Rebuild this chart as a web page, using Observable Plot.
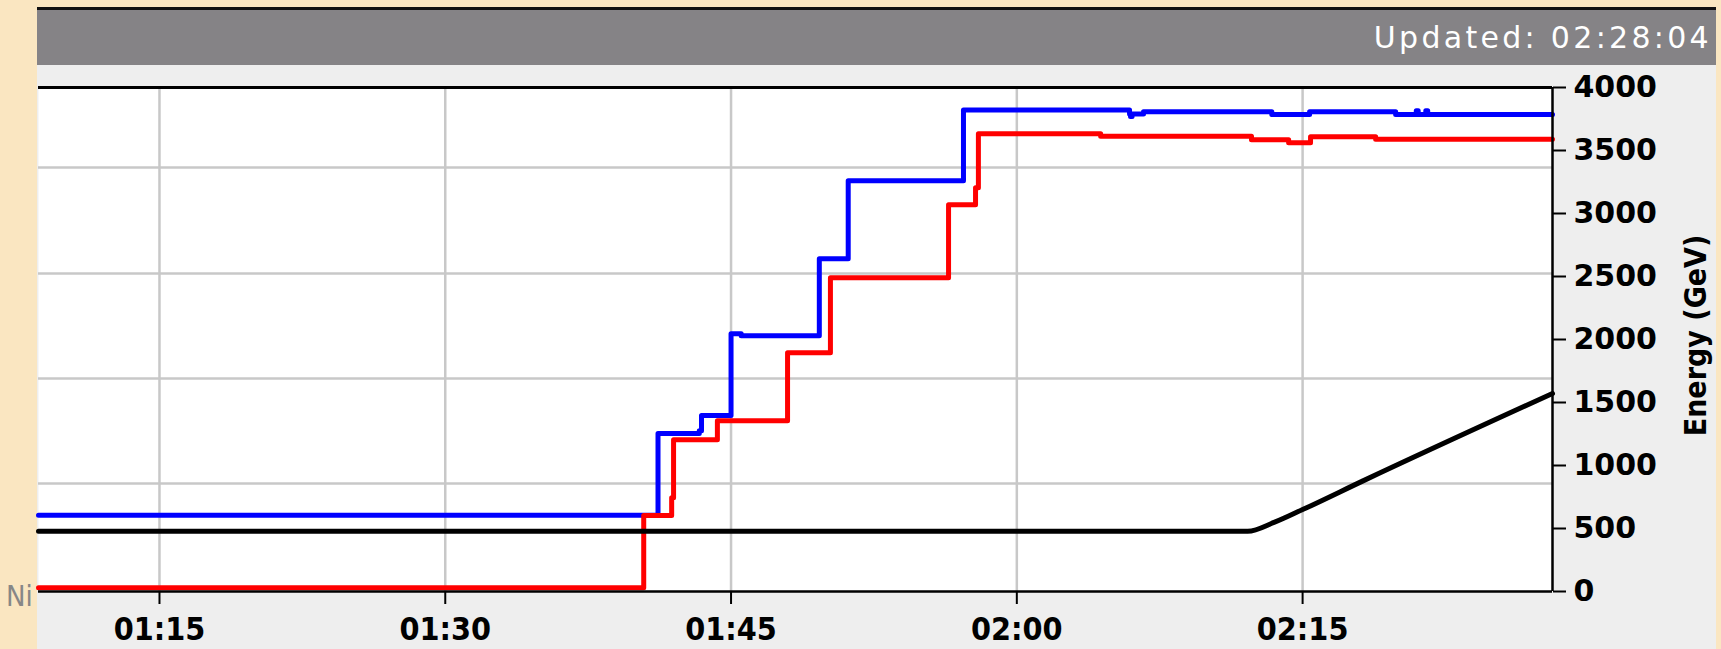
<!DOCTYPE html>
<html><head><meta charset="utf-8">
<script src="https://cdn.jsdelivr.net/npm/d3@7"></script>
<script src="https://cdn.jsdelivr.net/npm/@observablehq/plot@0.6"></script>
<style>
html,body{margin:0;padding:0;}
body{width:1721px;height:649px;position:relative;overflow:hidden;background:#fae6c1;}
#bg{position:absolute;left:0;top:0;}
#chart{position:absolute;left:0;top:0;}
#chart svg{display:block;max-width:none;}
g[aria-label="x-axis tick label"]{font-family:"DejaVu Sans Condensed";font-weight:bold;font-size:32px;}
g[aria-label="y-axis tick label"]{font-family:"DejaVu Sans";font-weight:bold;font-size:30px;}
</style></head><body>
<svg id="bg" width="1721" height="649"></svg>
<div id="chart"></div>
<script>
// ---- data ----
const updatedLabel = "Updated: 02:28:04";
const sideText = "Ni";
const axisTitle = "Energy (GeV)";
const timeDomain = ["01:08:39", "02:28:07"];
const timeTicks = ["01:15", "01:30", "01:45", "02:00", "02:15"];
const energyTicks = [0, 500, 1000, 1500, 2000, 2500, 3000, 3500, 4000];
const gridEnergies = [857, 1690, 2524, 3365];

const blueTimes = ["01:08:39","01:41:10","01:43:20","01:43:27","01:45:00","01:45:32","01:49:38","01:51:09","01:57:12","02:05:55","02:05:58","02:06:03","02:06:39","02:13:23","02:15:22","02:19:53","02:20:58","02:21:04","02:21:28","02:21:34","02:28:07"];
const blueEnergy = [605,1253,1275,1396,2046,2030,2641,3259,3822,3790,3770,3790,3808,3785,3808,3785,3815,3785,3815,3785,3785];

const redTimes = ["01:08:39","01:40:25","01:41:53","01:41:59","01:44:17","01:47:58","01:50:13","01:56:25","01:57:50","01:57:59","02:04:24","02:12:19","02:14:16","02:15:25","02:18:50","02:28:07"];
const redEnergy = [30,603,745,1205,1356,1895,2490,3069,3204,3632,3613,3585,3562,3610,3590,3590];

const blackTimes = ["01:08:39","02:12:07","02:13:30","02:15:00","02:18:12","02:28:07"];
const blackEnergy = [478,478,548,650,880,1572];

// ---- helpers ----
function toDate(s) {
  const p = s.split(":").map(Number);
  return new Date(Date.UTC(2010, 0, 1, p[0], p[1], p[2] || 0));
}
const series = (times, vals) => times.map((t, i) => ({t: toDate(t), e: vals[i]}));
const blue = series(blueTimes, blueEnergy);
const red = series(redTimes, redEnergy);
const black = series(blackTimes, blackEnergy);
const xDomain = timeDomain.map(toDate);
const tickDates = timeTicks.map(toDate);

// ---- background panel (decoration) ----
const bg = d3.select("#bg");
bg.append("text").attr("x", 6).attr("y", 606).attr("fill", "#878787")
  .style("font", "29px 'DejaVu Sans Condensed'").text(sideText);
bg.append("rect").attr("x", 37).attr("y", 7).attr("width", 1679).attr("height", 642).attr("fill", "#eeeeee");
bg.append("rect").attr("x", 37).attr("y", 7).attr("width", 1679).attr("height", 3).attr("fill", "#111");
bg.append("rect").attr("x", 37).attr("y", 10).attr("width", 1679).attr("height", 55).attr("fill", "#858386");
bg.append("text").attr("x", 1712).attr("y", 48).attr("text-anchor", "end").attr("fill", "#ffffff")
  .style("font", "30px 'DejaVu Sans'").style("letter-spacing", "3.3px").text(updatedLabel);

// ---- chart ----
const chart = Plot.plot({
  width: 1721,
  height: 649,
  marginLeft: 38,
  marginRight: 169,
  marginTop: 87,
  marginBottom: 58,
  style: {background: "transparent", overflow: "visible"},
  x: {type: "utc", domain: xDomain, label: null},
  y: {domain: [0, 4000], label: null},
  marks: [
    Plot.frame({fill: "white", stroke: null}),
    Plot.ruleX(tickDates, {stroke: "#c8c8c8", strokeWidth: 2.5}),
    Plot.ruleY(gridEnergies, {stroke: "#c8c8c8", strokeWidth: 2.5}),
    Plot.line(blue, {x: "t", y: "e", curve: "step-after", stroke: "#0000ff", strokeWidth: 5}),
    Plot.line(red, {x: "t", y: "e", curve: "step-after", stroke: "#ff0000", strokeWidth: 5}),
    Plot.line(black, {x: "t", y: "e", curve: "monotone-x", stroke: "#000000", strokeWidth: 5}),
    Plot.ruleY([4000], {stroke: "#000", strokeWidth: 3}),
    Plot.ruleY([0], {stroke: "#000", strokeWidth: 2.5}),
    Plot.ruleX([xDomain[1]], {stroke: "#000", strokeWidth: 2.5}),
    Plot.axisX({ticks: tickDates, tickFormat: d3.utcFormat("%H:%M"), tickSize: 13, tickPadding: 13,
      label: null, stroke: "#000", strokeWidth: 2, fill: "#000",
      fontSize: 32, fontWeight: "bold", fontFamily: "DejaVu Sans Condensed"}),
    Plot.axisY({anchor: "right", ticks: energyTicks, tickFormat: d3.format("d"), tickSize: 13, tickPadding: 8,
      label: null, stroke: "#000", strokeWidth: 2, fill: "#000",
      fontSize: 30, fontWeight: "bold", fontFamily: "DejaVu Sans"}),
    Plot.text([axisTitle], {frameAnchor: "right", dx: 144, dy: -4, rotate: -90, textAnchor: "middle", fill: "#000",
      fontSize: 30, fontWeight: "bold", fontFamily: "DejaVu Sans Condensed"})
  ]
});
document.getElementById("chart").appendChild(chart);
</script>
</body></html>
